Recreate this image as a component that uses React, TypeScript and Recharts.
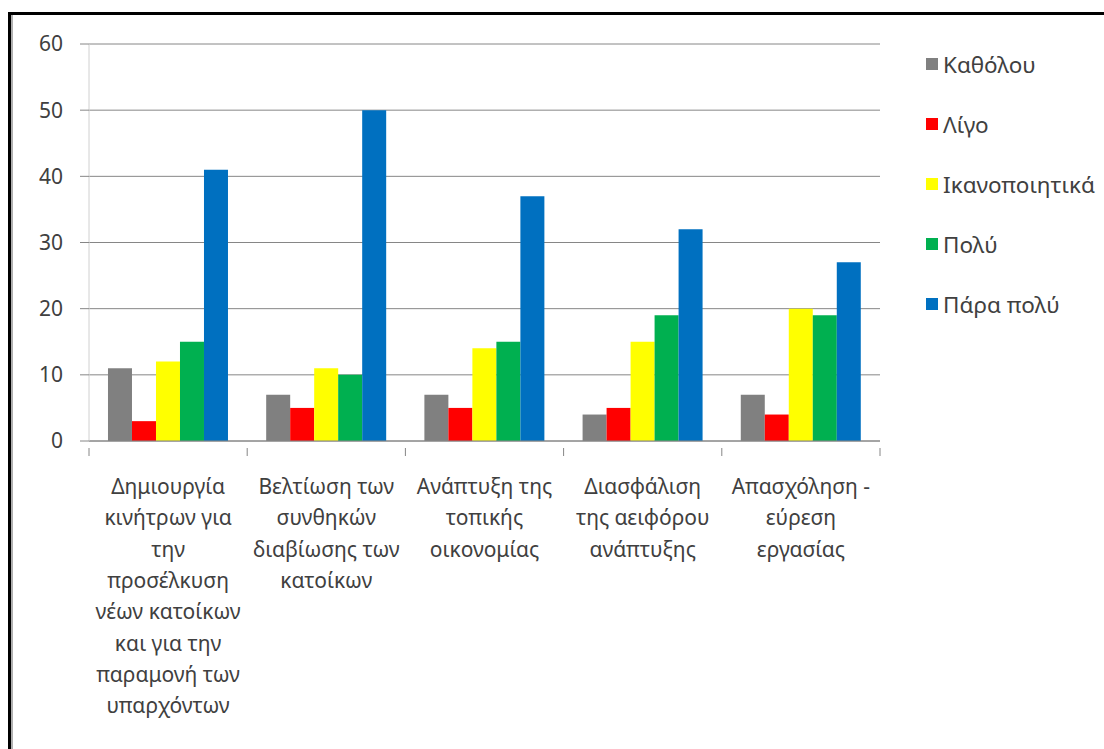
import React from "react";
import { BarChart, Bar, XAxis, YAxis, CartesianGrid } from "recharts";

const categories = [
  "Δημιουργία\nκινήτρων για\nτην\nπροσέλκυση\nνέων κατοίκων\nκαι για την\nπαραμονή των\nυπαρχόντων",
  "Βελτίωση των\nσυνθηκών\nδιαβίωσης των\nκατοίκων",
  "Ανάπτυξη της\nτοπικής\nοικονομίας",
  "Διασφάλιση\nτης αειφόρου\nανάπτυξης",
  "Απασχόληση -\nεύρεση\nεργασίας",
];
const seriesNames = ["Καθόλου", "Λίγο", "Ικανοποιητικά", "Πολύ", "Πάρα πολύ"];
const seriesColors = ["#808080", "#ff0000", "#ffff00", "#00b050", "#0070c0"];
const katholou = [11, 7, 7, 4, 7];
const ligo = [3, 5, 5, 5, 4];
const ikanopoiitika = [12, 11, 14, 15, 20];
const poly = [15, 10, 15, 19, 19];
const paraPoly = [41, 50, 37, 32, 27];
const yTicks = [0, 10, 20, 30, 40, 50, 60];

const seriesValues = [katholou, ligo, ikanopoiitika, poly, paraPoly];
const data = categories.map((c, i) => {
  const row: Record<string, any> = { name: c };
  seriesNames.forEach((s, j) => {
    row[s] = seriesValues[j][i];
  });
  return row;
});

const FONT = "'Noto Sans', sans-serif";
const TEXT = "#404040";

const CategoryTick = (props: any) => {
  const { x, y, payload, index, width, visibleTicksCount } = props;
  const count = visibleTicksCount || categories.length;
  const band = width / count;
  const lines = String(payload.value).split("\n");
  return (
    <g>
      <line x1={x - band / 2} x2={x - band / 2} y1={y - 1} y2={y + 7} stroke="#868686" />
      {index === count - 1 && (
        <line x1={x + band / 2} x2={x + band / 2} y1={y - 1} y2={y + 7} stroke="#868686" />
      )}
      <text x={x} y={y + 45} textAnchor="middle" fill={TEXT} fontSize={21} fontFamily={FONT}>
        {lines.map((l, i) => (
          <tspan key={i} x={x} dy={i === 0 ? 0 : 31.3}>
            {l}
          </tspan>
        ))}
      </text>
    </g>
  );
};

const ChartLegend = () => (
  <div
    style={{
      position: "absolute",
      left: 926,
      top: 34,
      fontFamily: FONT,
      fontSize: 22.5,
      color: TEXT,
      whiteSpace: "nowrap",
    }}
  >
    {seriesNames.map((s, i) => (
      <div key={s} style={{ display: "flex", alignItems: "center", height: 60 }}>
        <span
          style={{ display: "inline-block", width: 12, height: 12, background: seriesColors[i], marginRight: 5 }}
        />
        <span>{s}</span>
      </div>
    ))}
  </div>
);

export default function App() {
  return (
    <div style={{ position: "absolute", left: 0, top: 0, width: 1104, height: 749, background: "#fff", overflow: "hidden" }}>
      <div style={{ position: "absolute", left: 8, top: 12, width: 1096, height: 3, background: "#000" }} />
      <div style={{ position: "absolute", left: 8, top: 12, width: 3, height: 737, background: "#000" }} />
      <div style={{ position: "absolute", left: 11, top: 15, width: 2, height: 734, background: "#b0b0b0" }} />
      <BarChart
        width={1104}
        height={749}
        data={data}
        margin={{ top: 44, right: 224, left: 0, bottom: 28 }}
        barCategoryGap="12%"
        barGap={0}
        style={{ position: "absolute", left: 0, top: 0 }}
      >
        <CartesianGrid vertical={false} stroke="#868686" />
        <XAxis
          dataKey="name"
          interval={0}
          height={280}
          tickLine={false}
          axisLine={{ stroke: "#868686" }}
          tick={<CategoryTick />}
        />
        <YAxis
          width={89}
          domain={[0, 60]}
          ticks={yTicks}
          interval={0}
          tickSize={9}
          tickMargin={17}
          tickLine={{ stroke: "#868686" }}
          axisLine={{ stroke: "#d0d0d0" }}
          tick={{ fill: TEXT, fontSize: 21, fontFamily: FONT }}
        />
        {seriesNames.map((s, j) => (
          <Bar key={s} dataKey={s} fill={seriesColors[j]} isAnimationActive={false} />
        ))}
      </BarChart>
      <ChartLegend />
    </div>
  );
}
